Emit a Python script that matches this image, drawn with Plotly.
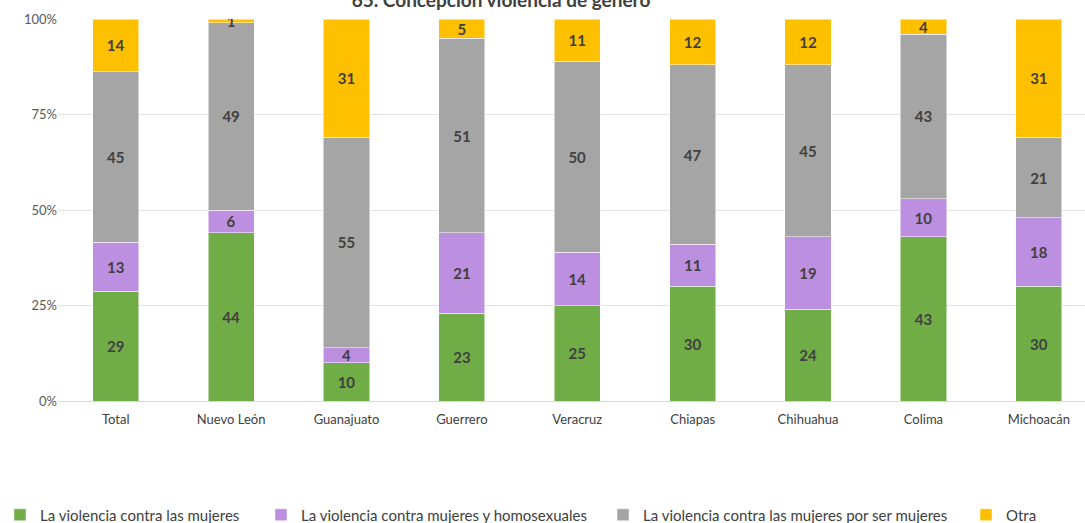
import plotly.graph_objects as go

categories = ["Total", "Nuevo León", "Guanajuato", "Guerrero", "Veracruz",
              "Chiapas", "Chihuahua", "Colima", "Michoacán"]
mujeres = [29, 44, 10, 23, 25, 30, 24, 43, 30]
homosexuales = [13, 6, 4, 21, 14, 11, 19, 10, 18]
por_ser_mujeres = [45, 49, 55, 51, 50, 47, 45, 43, 21]
otra = [14, 1, 31, 5, 11, 12, 12, 4, 31]

series = [
    ("La violencia contra las mujeres", mujeres, "#70AD47"),
    ("La violencia contra mujeres y homosexuales", homosexuales, "#BD8FE0"),
    ("La violencia contra las mujeres por ser mujeres", por_ser_mujeres, "#A5A5A5"),
    ("Otra", otra, "#FFC000"),
]
tick_vals = [0, 25, 50, 75, 100]
tick_text = ["0%", "25%", "50%", "75%", "100%"]

legend_text_x = [38, 299, 641, 1004]

L, T, B = 58, 19, 122
PW, PH = 1085 - L, 523 - T - B

fig = go.Figure()
for i, (name, vals, color) in enumerate(series):
    lg = "legend" if i == 0 else f"legend{i+1}"
    fig.add_trace(go.Bar(
        x=categories, y=vals, name=name, showlegend=True,
        marker=dict(color=color, line=dict(color="#FFFFFF", width=0.5)),
        text=vals, textposition="inside", insidetextanchor="middle",
        textangle=0,
        textfont=dict(size=15, color="#404040", family="Lato", weight="bold"),
        width=0.4, legend=lg,
    ))

layout_legends = {}
for i, tx in enumerate(legend_text_x):
    key = "legend" if i == 0 else f"legend{i+1}"
    layout_legends[key] = dict(
        x=(tx - 38 - L) / PW, y=(T + PH - 515) / PH,
        xanchor="left", yanchor="middle",
        orientation="h", bgcolor="rgba(0,0,0,0)",
        font=dict(size=15, color="#404040", family="Lato"),
        itemwidth=30,
    )

fig.update_layout(
    barmode="stack", barnorm="percent", showlegend=True,
    width=1085, height=523,
    margin=dict(l=L, r=0, t=T, b=B, autoexpand=False),
    paper_bgcolor="white", plot_bgcolor="white",
    font=dict(family="Lato", color="#595959"),
    uniformtext=dict(minsize=15, mode="show"),
    title=dict(text="<b>65. Concepción violencia de género</b>",
               x=501 / 1085, xanchor="center", y=1.0, yanchor="middle",
               yref="container",
               font=dict(size=19, color="#404040", family="Lato")),
    xaxis=dict(range=[-0.5, 8.4], showgrid=False, showline=False,
               automargin=False, ticklabelstandoff=9,
               tickfont=dict(size=13, color="#404040"), ticks=""),
    yaxis=dict(range=[0, 100], tickvals=tick_vals, ticktext=tick_text,
               automargin=False,
               showgrid=True, gridcolor="#E3E3E3", gridwidth=1,
               zeroline=True, zerolinecolor="#D9D9D9", zerolinewidth=1,
               tickfont=dict(size=13, color="#595959"), ticks=""),
    **layout_legends,
)

fig.write_html("out.html", config={"displayModeBar": False})

with open("out.html", "r", encoding="utf-8") as f:
    html = f.read()
html = html.replace("<body>", '<body style="margin:0;padding:0;overflow:hidden">', 1)
with open("out.html", "w", encoding="utf-8") as f:
    f.write(html)
